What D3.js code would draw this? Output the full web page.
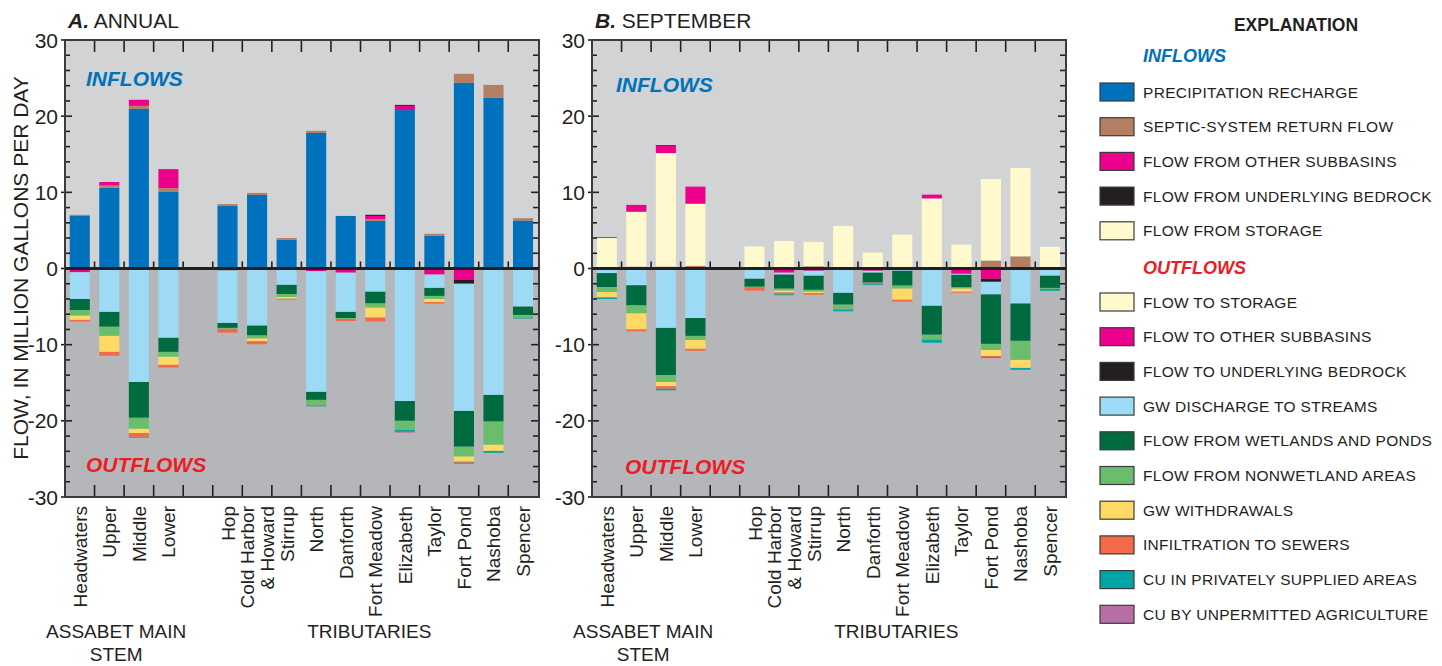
<!DOCTYPE html>
<html>
<head>
<meta charset="utf-8">
<script src="https://cdn.jsdelivr.net/npm/d3@7"></script>
<style>
  body { margin: 0; background: #fff; }
  svg { display: block; }
  .narrow { font-family: "Liberation Sans Narrow", "Arial Narrow", "Liberation Sans", sans-serif; }
  .wide { font-family: "Liberation Sans", Arial, sans-serif; }
</style>
</head>
<body>
<svg id="chart" width="1442" height="666"></svg>
<script>
// --- Data ---
const mainStem = ["Headwaters", "Upper", "Middle", "Lower"];
const tributaries = ["Hop", "Cold Harbor & Howard", "Stirrup", "North", "Danforth", "Fort Meadow",
  "Elizabeth", "Taylor", "Fort Pond", "Nashoba", "Spencer"];
const categories = mainStem.concat(tributaries);
const yTicks = [-30, -20, -10, 0, 10, 20, 30];

// A. Annual -- inflows (Mgal/d)
const annPrecip      = [6.9, 10.6, 20.95, 10.05, 8.2, 9.65, 3.75, 17.8, 6.9, 6.25, 20.8, 4.28, 24.35, 22.4, 6.3];
const annSeptic      = [0.15, 0.3, 0.4, 0.5, 0.25, 0.27, 0.25, 0.27, 0, 0.25, 0, 0.27, 1.2, 1.7, 0.3];
const annFromStorage = [0, 0, 0, 0, 0, 0, 0, 0, 0, 0, 0, 0, 0, 0, 0];
const annFromOther   = [0, 0.45, 0.8, 2.5, 0, 0, 0, 0, 0, 0.4, 0.55, 0, 0, 0, 0];
const annFromBedrock = [0, 0, 0, 0, 0, 0, 0, 0, 0, 0.15, 0.13, 0, 0, 0, 0];
// A. Annual -- outflows (magnitudes)
const annToStorage   = [0, 0, 0, 0, 0, 0, 0, 0, 0, 0, 0, 0, 0, 0, 0];
const annToOther     = [0.5, 0, 0, 0, 0.15, 0, 0, 0.35, 0.55, 0, 0, 0.8, 1.5, 0, 0];
const annToBedrock   = [0, 0, 0, 0, 0.1, 0, 0, 0, 0, 0, 0, 0, 0.5, 0, 0];
const annGwDischarge = [3.5, 5.7, 14.9, 9.1, 6.9, 7.5, 2.15, 15.85, 5.15, 3.05, 17.4, 1.75, 16.7, 16.6, 5.0];
const annWetlands    = [1.45, 1.95, 4.7, 1.85, 0.65, 1.3, 1.2, 1.05, 0.8, 1.55, 2.6, 1.05, 4.7, 3.5, 1.1];
const annNonwetland  = [0.75, 1.2, 1.45, 0.65, 0.12, 0.4, 0.4, 0.65, 0.12, 0.55, 1.2, 0.4, 1.3, 3.05, 0.35];
const annWithdrawals = [0.55, 2.1, 0.55, 1.05, 0, 0.35, 0.22, 0, 0, 1.3, 0, 0.4, 0.65, 0.8, 0];
const annSewers      = [0.2, 0.5, 0.5, 0.35, 0.5, 0.4, 0.13, 0.1, 0.28, 0.5, 0, 0.2, 0.15, 0, 0];
const annCuPrivate   = [0, 0, 0.1, 0, 0, 0, 0, 0.1, 0, 0, 0.25, 0, 0.12, 0.25, 0.12];
const annCuAgric     = [0, 0, 0, 0, 0, 0, 0, 0, 0, 0, 0.1, 0, 0.05, 0, 0];

// B. September -- inflows
const sepPrecip      = [0, 0, 0, 0, 0, 0, 0, 0, 0, 0, 0, 0, 0, 0, 0];
const sepSeptic      = [0.05, 0.25, 0.25, 0.35, 0.1, 0.15, 0.3, 0.15, 0, 0.15, 0, 0.15, 1.05, 1.6, 0.15];
const sepFromStorage = [3.95, 7.2, 14.9, 8.15, 2.8, 3.45, 3.2, 5.45, 2.1, 4.3, 9.2, 3.0, 10.7, 11.6, 2.7];
const sepFromOther   = [0, 0.9, 0.95, 2.25, 0, 0, 0, 0, 0, 0, 0.5, 0, 0, 0, 0];
const sepFromBedrock = [0.08, 0, 0.1, 0, 0, 0, 0, 0, 0, 0, 0, 0, 0, 0, 0];
// B. September -- outflows
const sepToStorage   = [0, 0, 0, 0, 0, 0, 0, 0, 0, 0, 0, 0, 0, 0, 0];
const sepToOther     = [0.15, 0, 0, 0, 0, 0.55, 0.3, 0, 0.3, 0.1, 0, 0.7, 1.35, 0.15, 0];
const sepToBedrock   = [0, 0, 0, 0, 0, 0, 0, 0, 0, 0, 0, 0, 0.4, 0, 0];
const sepGwDischarge = [0.45, 2.2, 7.8, 6.5, 1.35, 0.25, 0.65, 3.2, 0.25, 0.2, 4.9, 0.13, 1.65, 4.45, 0.95];
const sepWetlands    = [1.85, 2.65, 6.2, 2.35, 1.05, 1.85, 1.85, 1.55, 1.3, 1.95, 3.8, 1.65, 6.5, 4.9, 1.6];
const sepNonwetland  = [0.65, 1.05, 0.9, 0.55, 0.05, 0.25, 0.25, 0.55, 0, 0.4, 0.65, 0.17, 0.8, 2.5, 0.13];
const sepWithdrawals = [0.65, 2.1, 0.55, 1.15, 0, 0.25, 0.18, 0, 0, 1.45, 0, 0.4, 0.8, 1.05, 0];
const sepSewers      = [0.1, 0.25, 0.35, 0.25, 0.45, 0.25, 0.2, 0.12, 0.2, 0.25, 0, 0.13, 0.12, 0, 0];
const sepCuPrivate   = [0.15, 0, 0.2, 0, 0, 0.12, 0, 0.2, 0.12, 0, 0.4, 0, 0.12, 0.25, 0.25];
const sepCuAgric     = [0, 0, 0, 0, 0, 0, 0, 0, 0, 0, 0, 0, 0, 0, 0];

// --- Component keys / colours ---
const inflowKeys = ["precip", "septic", "fromStorage", "fromOther", "fromBedrock"];
const outflowKeys = ["toStorage", "toOther", "toBedrock", "gwDischarge", "wetlands",
  "nonwetland", "withdrawals", "sewers", "cuPrivate", "cuAgric"];
const colors = {
  precip: "#0071bc", septic: "#b27f63", fromOther: "#ec008c", fromBedrock: "#231f20",
  fromStorage: "#fff9cd", toStorage: "#fff9cd", toOther: "#ec008c", toBedrock: "#231f20",
  gwDischarge: "#9ddaf6", wetlands: "#006b3f", nonwetland: "#6abd6a", withdrawals: "#ffd966",
  sewers: "#f26a4a", cuPrivate: "#00a6a5", cuAgric: "#b76ea6"
};
const legendInflows = [
  ["precip", "PRECIPITATION RECHARGE"], ["septic", "SEPTIC-SYSTEM RETURN FLOW"],
  ["fromOther", "FLOW FROM OTHER SUBBASINS"], ["fromBedrock", "FLOW FROM UNDERLYING BEDROCK"],
  ["fromStorage", "FLOW FROM STORAGE"]
];
const legendOutflows = [
  ["toStorage", "FLOW TO STORAGE"], ["toOther", "FLOW TO OTHER SUBBASINS"],
  ["toBedrock", "FLOW TO UNDERLYING BEDROCK"], ["gwDischarge", "GW DISCHARGE TO STREAMS"],
  ["wetlands", "FLOW FROM WETLANDS AND PONDS"], ["nonwetland", "FLOW FROM NONWETLAND AREAS"],
  ["withdrawals", "GW WITHDRAWALS"], ["sewers", "INFILTRATION TO SEWERS"],
  ["cuPrivate", "CU IN PRIVATELY SUPPLIED AREAS"], ["cuAgric", "CU BY UNPERMITTED AGRICULTURE"]
];

function buildRows(inArrs, outArrs) {
  return categories.map((c, i) => {
    const r = { name: c };
    inflowKeys.forEach((k, j) => r[k] = inArrs[j][i]);
    outflowKeys.forEach((k, j) => r[k] = outArrs[j][i]);
    return r;
  });
}
const annualRows = buildRows(
  [annPrecip, annSeptic, annFromStorage, annFromOther, annFromBedrock],
  [annToStorage, annToOther, annToBedrock, annGwDischarge, annWetlands, annNonwetland,
   annWithdrawals, annSewers, annCuPrivate, annCuAgric]);
const septRows = buildRows(
  [sepPrecip, sepSeptic, sepFromStorage, sepFromOther, sepFromBedrock],
  [sepToStorage, sepToOther, sepToBedrock, sepGwDischarge, sepWetlands, sepNonwetland,
   sepWithdrawals, sepSewers, sepCuPrivate, sepCuAgric]);

// --- Layout ---
const svg = d3.select("#chart");
const plotTop = 40, plotBottom = 497;
const frameW = 474;
const slots = mainStem.concat(["_gap"], tributaries);

const y = d3.scaleLinear().domain([-30, 30]).range([plotBottom, plotTop]);

function drawPanel(left, rows, letter, title, inLabel, outLabel) {
  const g = svg.append("g").attr("transform", `translate(${left},0)`);
  const x = d3.scaleBand().domain(slots).range([0, 472.8]).paddingInner(0.32).paddingOuter(0.16);

  // background halves
  g.append("rect").attr("x", 0).attr("y", plotTop).attr("width", frameW).attr("height", y(0) - plotTop).attr("fill", "#d1d3d4");
  g.append("rect").attr("x", 0).attr("y", y(0)).attr("width", frameW).attr("height", plotBottom - y(0)).attr("fill", "#b5b6b9");

  // inflow stacks
  const inStack = d3.stack().keys(inflowKeys)(rows);
  g.append("g").selectAll("g").data(inStack).join("g")
    .attr("fill", d => colors[d.key])
    .selectAll("rect").data(d => d).join("rect")
    .attr("x", d => x(d.data.name))
    .attr("width", x.bandwidth())
    .attr("y", d => y(d[1]))
    .attr("height", d => y(d[0]) - y(d[1]));

  // outflow stacks (drawn downward)
  const outStack = d3.stack().keys(outflowKeys)(rows);
  g.append("g").selectAll("g").data(outStack).join("g")
    .attr("fill", d => colors[d.key])
    .selectAll("rect").data(d => d).join("rect")
    .attr("x", d => x(d.data.name))
    .attr("width", x.bandwidth())
    .attr("y", d => y(-d[0]))
    .attr("height", d => y(-d[1]) - y(-d[0]));

  // slot boundary ticks (top, bottom, above zero line)
  const bounds = d3.range(1, slots.length).map(i => i * x.step());
  const tk = g.append("g").attr("stroke", "#231f20").attr("stroke-width", 1.6);
  bounds.forEach(bx => {
    tk.append("line").attr("x1", bx).attr("x2", bx).attr("y1", plotTop).attr("y2", plotTop + 12);
    tk.append("line").attr("x1", bx).attr("x2", bx).attr("y1", plotBottom).attr("y2", plotBottom - 12);
    tk.append("line").attr("x1", bx).attr("x2", bx).attr("y1", y(0)).attr("y2", y(0) - 7);
  });

  // y ticks on both sides
  d3.range(-30, 31, 2).forEach(v => {
    const major = v % 10 === 0;
    tk.append("line").attr("x1", major ? -4 : 0).attr("x2", major ? 7 : 5).attr("y1", y(v)).attr("y2", y(v));
    tk.append("line").attr("x1", frameW - (major ? 8 : 6)).attr("x2", frameW).attr("y1", y(v)).attr("y2", y(v));
  });

  // frame and zero line
  g.append("rect").attr("x", 0).attr("y", plotTop).attr("width", frameW).attr("height", plotBottom - plotTop)
    .attr("fill", "none").attr("stroke", "#3b3b3b").attr("stroke-width", 2);
  g.append("line").attr("x1", 0).attr("x2", frameW).attr("y1", y(0)).attr("y2", y(0))
    .attr("stroke", "#231f20").attr("stroke-width", 3);

  // y tick labels
  g.append("g").selectAll("text").data(yTicks).join("text")
    .attr("class", "narrow")
    .attr("x", -7).attr("y", d => y(d)).attr("dy", "0.36em")
    .attr("text-anchor", "end").attr("font-size", 21).attr("fill", "#231f20")
    .text(d => d);

  // category labels (rotated)
  categories.forEach(c => {
    const cx = x(c) + x.bandwidth() / 2;
    const lines = c.includes(" & ") ? [c.split(" & ")[0], "& " + c.split(" & ")[1]] : [c];
    const t = g.append("text").attr("class", "narrow")
      .attr("transform", `translate(${cx},506) rotate(-90)`)
      .attr("text-anchor", "end").attr("font-size", 19).attr("fill", "#231f20");
    lines.forEach((ln, i) => {
      t.append("tspan").attr("x", 0)
        .attr("y", 7 + (i - (lines.length - 1) / 2) * 20)
        .text(ln);
    });
  });

  // group labels
  const msCenter = (x("Headwaters") + x("Lower") + x.bandwidth()) / 2;
  const trCenter = (x("Hop") + x("Spencer") + x.bandwidth()) / 2;
  const gl = g.append("g").attr("class", "wide").attr("font-size", 19).attr("fill", "#231f20").attr("text-anchor", "middle");
  gl.append("text").attr("x", msCenter - 8).attr("y", 638).text("ASSABET MAIN");
  gl.append("text").attr("x", msCenter - 8).attr("y", 661).text("STEM");
  gl.append("text").attr("x", trCenter - 6).attr("y", 638).text("TRIBUTARIES");

  // in-plot labels
  g.append("text").attr("class", "wide").attr("x", inLabel[0]).attr("y", inLabel[1])
    .attr("font-size", 21).attr("font-weight", "bold").attr("font-style", "italic")
    .attr("fill", "#0071bc").text("INFLOWS");
  g.append("text").attr("class", "wide").attr("x", outLabel[0]).attr("y", outLabel[1])
    .attr("font-size", 21).attr("font-weight", "bold").attr("font-style", "italic")
    .attr("fill", "#ed1c24").text("OUTFLOWS");

  // panel title
  const tt = g.append("text").attr("class", "wide").attr("x", 3).attr("y", 28)
    .attr("font-size", 21).attr("fill", "#231f20");
  tt.append("tspan").attr("font-weight", "bold").attr("font-style", "italic").text(letter + ".");
  tt.append("tspan").text(" " + title);
}

drawPanel(65, annualRows, "A", "ANNUAL", [21, 86], [21, 472]);
drawPanel(592, septRows, "B", "SEPTEMBER", [24, 92], [33, 474]);

// y-axis title
svg.append("text").attr("class", "narrow")
  .attr("transform", "translate(28,268) rotate(-90)")
  .attr("text-anchor", "middle").attr("font-size", 21).attr("fill", "#231f20")
  .text("FLOW, IN MILLION GALLONS PER DAY");

// --- Legend ---
const leg = svg.append("g").attr("class", "wide").attr("fill", "#231f20");
leg.append("text").attr("x", 1296).attr("y", 31).attr("text-anchor", "middle")
  .attr("font-size", 17.5).attr("font-weight", "bold").text("EXPLANATION");
leg.append("text").attr("x", 1143).attr("y", 62).attr("font-size", 18)
  .attr("font-weight", "bold").attr("font-style", "italic").attr("fill", "#0071bc").text("INFLOWS");
leg.append("text").attr("x", 1143).attr("y", 274).attr("font-size", 18)
  .attr("font-weight", "bold").attr("font-style", "italic").attr("fill", "#ed1c24").text("OUTFLOWS");

function legendRows(items, y0) {
  items.forEach(([k, label], i) => {
    const cy = y0 + i * 34.7;
    leg.append("rect").attr("x", 1100).attr("y", cy - 9).attr("width", 34).attr("height", 18)
      .attr("fill", colors[k]).attr("stroke", "#3b3b3b").attr("stroke-width", 1.2);
    leg.append("text").attr("x", 1143).attr("y", cy).attr("dy", "0.36em")
      .attr("font-size", 15.5).attr("letter-spacing", 0.3).text(label);
  });
}
legendRows(legendInflows, 92);
legendRows(legendOutflows, 302);
</script>
</body>
</html>
